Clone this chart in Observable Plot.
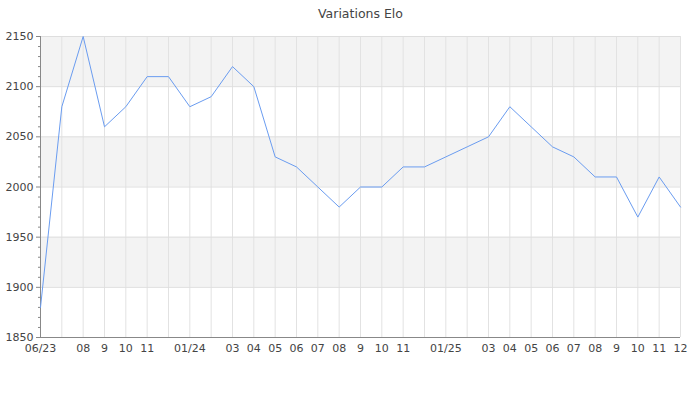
<!DOCTYPE html>
<html>
<head>
<meta charset="utf-8">
<script src="https://cdn.jsdelivr.net/npm/d3@7"></script>
<script src="https://cdn.jsdelivr.net/npm/@observablehq/plot@0.6"></script>
<style>
  html, body { margin: 0; padding: 0; background: #fff; }
  #chart svg { display: block; }
</style>
</head>
<body>
<div id="chart"></div>
<script>
const title = "Variations Elo";
const monthLabels = ["06/23","","08","9","10","11","","01/24","","03","04","05","06","07","08","9","10","11","","01/25","","03","04","05","06","07","08","9","10","11","12"];
const eloValues = [1880,2080,2150,2060,2080,2110,2110,2080,2090,2120,2100,2030,2020,2000,1980,2000,2000,2020,2020,2030,2040,2050,2080,2060,2040,2030,2010,2010,1970,2010,1980];
const yDomain = [1850, 2150];
const yMajorTicks = [1850,1900,1950,2000,2050,2100,2150];

const data = eloValues.map((v, i) => ({i, v}));
const monthIdx = monthLabels.map((_, i) => i);
const lastIdx = monthLabels.length - 1;
const bands = yMajorTicks.slice(0, -1).map((y, k) => ({y1: y, y2: yMajorTicks[k + 1], k})).filter(d => d.k % 2 === 1);
const yMinorTicks = d3.range(yDomain[0], yDomain[1] + 1, 10).filter(t => !yMajorTicks.includes(t));

const chart = Plot.plot({
  width: 700,
  height: 400,
  marginTop: 36,
  marginBottom: 63,
  marginLeft: 40,
  marginRight: 20,
  style: {fontFamily: "DejaVu Sans", fontSize: "11px", color: "#444", background: "#fff"},
  x: {domain: [0, lastIdx], type: "linear", label: null},
  y: {domain: yDomain, label: null},
  marks: [
    Plot.rect(bands, {x1: () => 0, x2: () => lastIdx, y1: "y1", y2: "y2", fill: "#f3f3f3"}),
    Plot.gridX(monthIdx, {stroke: "#e2e2e2", strokeOpacity: 1}),
    Plot.gridY(yMajorTicks, {stroke: "#dedede", strokeOpacity: 1}),
    Plot.axisY(yMajorTicks, {tickSize: 4, tickPadding: 3, stroke: "#888", fill: "#444", fontSize: 11, label: null, tickFormat: d => String(d)}),
    Plot.axisY(yMinorTicks, {tickSize: 2, stroke: "#888", text: null, label: null}),
    Plot.axisX(monthIdx, {tickSize: 0, tickPadding: 7, fill: "#444", fontSize: 11, label: null, tickFormat: i => monthLabels[i]}),
    Plot.ruleX([0], {stroke: "#888"}),
    Plot.ruleY([yDomain[0]], {stroke: "#888"}),
    Plot.line(data, {x: "i", y: "v", stroke: "#6a9cf0", strokeWidth: 1}),
    Plot.text([title], {frameAnchor: "top", dy: -19, lineAnchor: "bottom", fontSize: 12.5, fill: "#444", text: d => d})
  ]
});
document.getElementById("chart").append(chart);
</script>
</body>
</html>
